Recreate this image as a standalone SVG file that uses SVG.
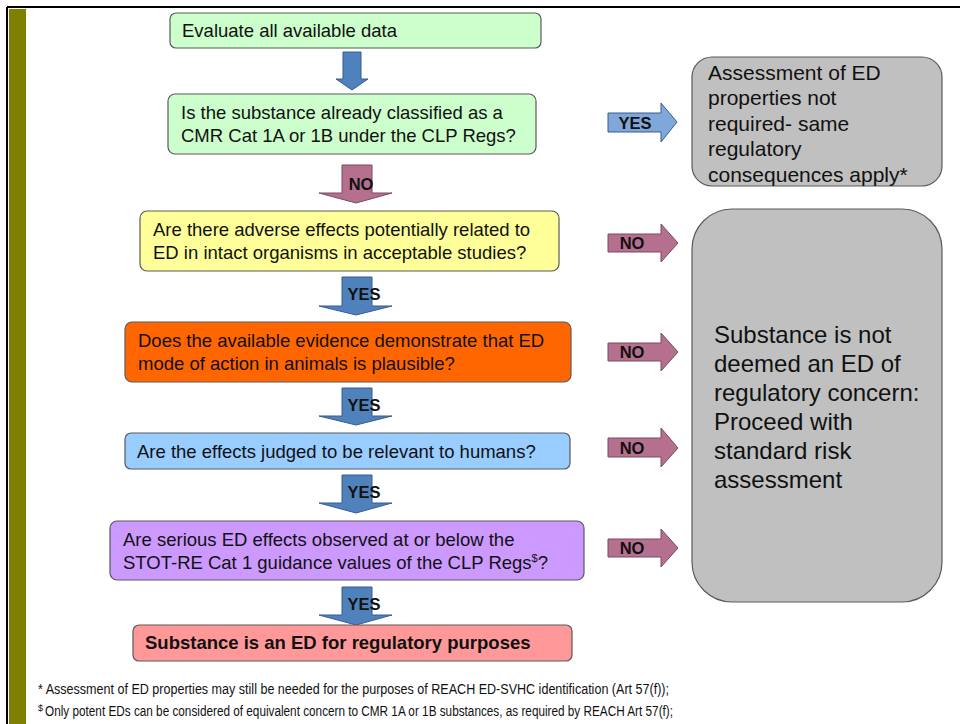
<svg xmlns="http://www.w3.org/2000/svg" width="960" height="724" viewBox="0 0 960 724">
<style>
.box{stroke:#5a5a5a;stroke-width:1.2}
.t{font-family:"Liberation Sans",Arial,sans-serif;font-size:18.5px;fill:#111}
.tb{font-family:"Liberation Sans",Arial,sans-serif;font-size:18.5px;font-weight:bold;fill:#111}
.tg{font-family:"Liberation Sans",Arial,sans-serif;font-size:21px;fill:#111}
.tbig{font-family:"Liberation Sans",Arial,sans-serif;font-size:24px;fill:#111}
.lab{font-family:"Liberation Sans",Arial,sans-serif;font-size:16.5px;font-weight:bold;fill:#111}
.fn{font-family:"Liberation Sans",Arial,sans-serif;font-size:14px;fill:#111}
.blue{fill:#4f81bd;stroke:#385d8a;stroke-width:1}
.lblue{fill:#7fa7d9;stroke:#385d8a;stroke-width:1}
.pink{fill:#b5708f;stroke:#7a4a60;stroke-width:1}
</style>
<rect x="0" y="0" width="960" height="724" fill="#ffffff"/>
<g id="frame">
<rect x="9" y="9" width="17" height="715" fill="#808000"/>
<line x1="7" y1="7" x2="960" y2="7" stroke="#000" stroke-width="2"/>
<line x1="7" y1="7" x2="7" y2="724" stroke="#000" stroke-width="2"/>
</g>
<g id="connectors">
<path class="blue" d="M343,52 H361 V79 H368 L352,90 L336,79 H343 Z"/>
<path class="lblue" d="M608,113 H661 V103 L677,122 L661,142 V132 H608 Z"/>
<text class="lab" x="635" y="129" text-anchor="middle">YES</text>
<path class="pink" d="M342,165 H372 V193 H392 L356,203 L319,193 H342 Z"/>
<text class="lab" x="361" y="190" text-anchor="middle">NO</text>
<path class="pink" d="M608,234 H661 V224 L678,243 L661,262 V252 H608 Z"/>
<text class="lab" x="632" y="249" text-anchor="middle">NO</text>
<path class="blue" d="M342,277 H372 V306 H392 L356,315 L319,306 H342 Z"/>
<text class="lab" x="364" y="300" text-anchor="middle">YES</text>
<path class="pink" d="M608,343 H661 V333 L678,352 L661,371 V361 H608 Z"/>
<text class="lab" x="632" y="358" text-anchor="middle">NO</text>
<path class="blue" d="M342,388 H372 V416 H392 L356,425 L319,416 H342 Z"/>
<text class="lab" x="364" y="411" text-anchor="middle">YES</text>
<path class="pink" d="M608,438 H661 V428 L678,448 L661,467 V457 H608 Z"/>
<text class="lab" x="632" y="454" text-anchor="middle">NO</text>
<path class="blue" d="M342,475 H372 V503 H392 L356,513 L319,503 H342 Z"/>
<text class="lab" x="364" y="498" text-anchor="middle">YES</text>
<path class="pink" d="M608,539 H661 V529 L678,548 L661,567 V557 H608 Z"/>
<text class="lab" x="632" y="554" text-anchor="middle">NO</text>
<path class="blue" d="M342,587 H372 V615 H392 L356,625 L319,615 H342 Z"/>
<text class="lab" x="364" y="610" text-anchor="middle">YES</text>
</g>
<g id="n1">
<rect class="box" x="170" y="13" width="371" height="35" rx="6" fill="#ccffcc"/>
<text class="t" x="182" y="37">Evaluate all available data</text>
</g>
<g id="n2">
<rect class="box" x="168" y="94" width="368" height="60" rx="7" fill="#ccffcc"/>
<text class="t" x="181" y="119">Is the substance already classified as a</text>
<text class="t" x="181" y="142">CMR Cat 1A or 1B under the CLP Regs?</text>
</g>
<g id="n3">
<rect class="box" x="692" y="57" width="250" height="129" rx="20" fill="#c0c0c0"/>
<text class="tg" x="708" y="80">Assessment of ED</text>
<text class="tg" x="708" y="105">properties not</text>
<text class="tg" x="708" y="131">required- same</text>
<text class="tg" x="708" y="156">regulatory</text>
<text class="tg" x="708" y="182">consequences apply*</text>
</g>
<g id="n4">
<rect class="box" x="140" y="211" width="419" height="60" rx="7" fill="#ffff99"/>
<text class="t" x="153" y="236">Are there adverse effects potentially related to</text>
<text class="t" x="153" y="259">ED in intact organisms in acceptable studies?</text>
</g>
<g id="n5">
<rect class="box" x="692" y="209" width="250" height="393" rx="40" fill="#c0c0c0"/>
<text class="tbig" x="714" y="343">Substance is not</text>
<text class="tbig" x="714" y="372">deemed an ED of</text>
<text class="tbig" x="714" y="401">regulatory concern:</text>
<text class="tbig" x="714" y="430">Proceed with</text>
<text class="tbig" x="714" y="459">standard risk</text>
<text class="tbig" x="714" y="488">assessment</text>
</g>
<g id="n6">
<rect class="box" x="125" y="322" width="446" height="60" rx="7" fill="#ff6600"/>
<text class="t" x="138" y="347">Does the available evidence demonstrate that ED</text>
<text class="t" x="138" y="370">mode of action in animals is plausible?</text>
</g>
<g id="n7">
<rect class="box" x="125" y="433" width="445" height="36" rx="6" fill="#99ccff"/>
<text class="t" x="137" y="458">Are the effects judged to be relevant to humans?</text>
</g>
<g id="n8">
<rect class="box" x="110" y="521" width="474" height="59" rx="7" fill="#cc99ff"/>
<text class="t" x="123" y="546">Are serious ED effects observed at or below the</text>
<text class="t" x="123" y="569">STOT-RE Cat 1 guidance values of the CLP Regs<tspan font-size="11" dy="-7">$</tspan><tspan dy="7">?</tspan></text>
</g>
<g id="n9">
<rect class="box" x="133" y="625" width="439" height="36" rx="6" fill="#ff9999"/>
<text class="tb" x="145" y="649">Substance is an ED for regulatory purposes</text>
</g>
<g id="footnotes">
<text class="fn" x="38" y="694" textLength="631" lengthAdjust="spacingAndGlyphs">* Assessment of ED properties may still be needed for the purposes of REACH ED-SVHC identification (Art 57(f));</text>
<text class="fn" x="38" y="716"><tspan font-size="9" dy="-5">$</tspan><tspan dy="5" dx="2" textLength="628" lengthAdjust="spacingAndGlyphs">Only potent EDs can be considered of equivalent concern to CMR 1A or 1B substances, as required by REACH Art 57(f);</tspan></text>
</g>
</svg>
